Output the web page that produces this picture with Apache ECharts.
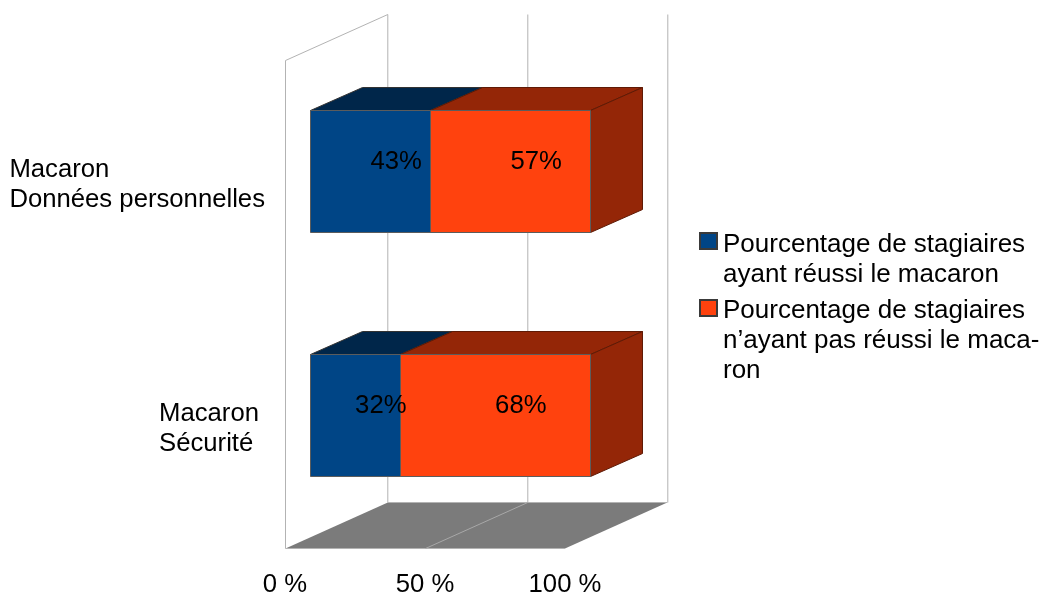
<!DOCTYPE html>
<html>
<head>
<meta charset="utf-8">
<style>html,body{margin:0;padding:0;background:#fff}#c{width:1048px;height:593px}</style>
<script src="https://cdn.jsdelivr.net/npm/echarts@6/dist/echarts.min.js"></script>
</head>
<body>
<div id="c"></div>
<script>
const categories = ['Macaron\nDonnées personnelles', 'Macaron\nSécurité'];
const reussi = [43, 32];
const echec = [57, 68];
const xTicks = [0, 50, 100];
const seriesNames = ['Pourcentage de stagiaires\nayant réussi le macaron', 'Pourcentage de stagiaires\nn’ayant pas réussi le maca-\nron'];

const FONT = '"Liberation Sans", Arial, sans-serif';
const FS = 25.7;
const GRID_COL = '#b3b3b3';
const WALL = { dx: 102.3, dy: -46 };
const BAR = { dx0: 25, dy0: -11, dx: 52, dy: -23 };

const chart = echarts.init(document.getElementById('c'), null, { renderer: 'canvas' });

function poly(points, fill, stroke, z2) {
  return { type: 'polygon', z2: z2 || 0, shape: { points }, style: { fill, stroke, lineWidth: 1 } };
}
function line(x1, y1, x2, y2, stroke) {
  return { type: 'line', shape: { x1, y1, x2, y2 }, style: { stroke, lineWidth: 1, fill: null } };
}

function renderWalls(params, api) {
  const c = params.coordSys;
  const l = c.x + 0.5, r = c.x + c.width, t = c.y + 0.5, b = c.y + c.height + 0.5;
  const d = WALL;
  return { type: 'group', children: [
    poly([[l, b], [r, b], [r + d.dx, b + d.dy], [l + d.dx, b + d.dy]], '#7b7b7b', null),
    line(l, t, l, b, GRID_COL),
    line(l, t, l + d.dx, t + d.dy, GRID_COL),
    line(l + d.dx, b + d.dy, r + d.dx, b + d.dy, GRID_COL),
    line(l, b, r, b, GRID_COL)
  ] };
}

function renderTicks(params, api) {
  const c = params.coordSys;
  const p = api.coord([api.value(0), 0]);
  const x = Math.round(p[0]) + 0.5;
  const b = c.y + c.height + 0.5, t = c.y + 0.5;
  const d = WALL;
  const kids = [line(x + d.dx, t + d.dy, x + d.dx, b + d.dy, GRID_COL)];
  if (api.value(0) > 0 && api.value(0) < 100) kids.push(line(x, b, x + d.dx, b + d.dy, '#a8a8a8'));
  return { type: 'group', children: kids };
}

function makeBarRenderer(front, dark, edge, baseArr) {
  return function (params, api) {
    const i = params.dataIndex;
    const v = api.value(0);
    const base = baseArr ? baseArr[i] : 0;
    const cat = api.value(1);
    const p0 = api.coord([base, cat]);
    const p1 = api.coord([base + v, cat]);
    const bw = api.size([0, 1])[1] / 2;
    const x0 = Math.round(p0[0] + BAR.dx0) + 0.5, x1 = Math.round(p1[0] + BAR.dx0) + 0.5;
    const yt = Math.round(p0[1] - bw / 2 + BAR.dy0) + 0.5, yb = yt + Math.round(bw);
    const dx = BAR.dx, dy = BAR.dy;
    return { type: 'group', children: [
      poly([[x0, yt], [x1, yt], [x1 + dx, yt + dy], [x0 + dx, yt + dy]], dark, edge),
      poly([[x1, yt], [x1 + dx, yt + dy], [x1 + dx, yb + dy], [x1, yb]], dark, edge),
      poly([[x0, yt], [x1, yt], [x1, yb], [x0, yb]], front, '#5c5c5c')
    ] };
  };
}

function renderLabels(baseArr) {
  return function (params, api) {
    const i = params.dataIndex;
    const v = api.value(0);
    const base = baseArr ? baseArr[i] : 0;
    const p = api.coord([base + v / 2, api.value(1)]);
    return { type: 'text', style: {
      text: v + '%', x: p[0] + BAR.dx0 + BAR.dx / 2, y: p[1] + BAR.dy0 + BAR.dy / 2 + 2.5,
      align: 'center', verticalAlign: 'middle', fill: '#000', font: FS + 'px ' + FONT
    } };
  };
}

const rowsOf = arr => arr.map((v, i) => [v, i]);
const labelSeries = (arr, base) => ({
  type: 'custom', coordinateSystem: 'cartesian2d', silent: true, z: 10,
  renderItem: renderLabels(base), encode: { x: 0, y: 1 }, data: rowsOf(arr)
});

function legendIcon(top, height) {
  return 'path://M0 ' + top + ' h17 v16 h-17 Z M0 0 L0 0 M0 ' + height + ' L0 ' + height;
}
const legendText = { fontSize: 26, lineHeight: 30, color: '#000', fontFamily: FONT, padding: [0, 0, 0, 1] };

chart.setOption({
  animation: false,
  backgroundColor: '#fff',
  textStyle: { fontFamily: FONT },
  grid: { left: 285, top: 60, width: 280, height: 488, containLabel: false, outerBoundsMode: 'none' },
  legend: [
    { data: [seriesNames[0]], left: 699, top: 229, padding: 0, orient: 'vertical', itemWidth: 17, itemHeight: 60, itemGap: 0, icon: legendIcon(3, 60),
      selectedMode: false, textStyle: legendText },
    { data: [seriesNames[1]], left: 699, top: 295, padding: 0, orient: 'vertical', itemWidth: 17, itemHeight: 90, itemGap: 0, icon: legendIcon(4, 90),
      selectedMode: false, textStyle: legendText }
  ],
  xAxis: {
    type: 'value', min: 0, max: 100, interval: 50,
    axisLine: { show: false }, axisTick: { show: false }, splitLine: { show: false },
    axisLabel: { formatter: '{value} %', fontSize: FS, color: '#000', fontFamily: FONT, margin: 24 }
  },
  yAxis: {
    type: 'category', inverse: true, data: categories,
    axisLine: { show: false }, axisTick: { show: false }, splitLine: { show: false },
    axisLabel: {
      margin: 20, color: '#000', fontSize: FS, fontFamily: FONT, align: 'right', padding: [6, 0, 0, 0],
      formatter: function (v) {
        const lines = v.split('\n');
        if (v.indexOf('Sécurité') >= 0) return lines.map(t => '{s|' + t + '}').join('\n');
        return lines.map(t => '{a|' + t + '}').join('\n');
      },
      rich: {
        a: { align: 'left', fontSize: FS, lineHeight: 30, fontFamily: FONT, color: '#000' },
        s: { align: 'left', fontSize: FS, lineHeight: 30, fontFamily: FONT, color: '#000', padding: [0, 6, 0, 0] }
      }
    }
  },
  series: [
    { type: 'custom', coordinateSystem: 'cartesian2d', silent: true, z: 1, renderItem: renderWalls, encode: { x: 0 }, data: [[xTicks[0]]] },
    { type: 'custom', coordinateSystem: 'cartesian2d', silent: true, z: 2, renderItem: renderTicks, encode: { x: 0 }, data: xTicks.map(t => [t]) },
    { name: seriesNames[0], type: 'custom', coordinateSystem: 'cartesian2d', z: 3,
      renderItem: makeBarRenderer('#004586', '#00264a', '#333', null),
      itemStyle: { color: '#004586', borderColor: '#3a3a3a', borderWidth: 1 },
      encode: { x: 0, y: 1 }, data: rowsOf(reussi) },
    { name: seriesNames[1], type: 'custom', coordinateSystem: 'cartesian2d', z: 4,
      renderItem: makeBarRenderer('#ff420e', '#942607', '#5f1a05', reussi),
      itemStyle: { color: '#ff420e', borderColor: '#3a3a3a', borderWidth: 1 },
      encode: { x: 0, y: 1 }, data: rowsOf(echec) },
    labelSeries(reussi, null),
    labelSeries(echec, reussi)
  ]
});
</script>
</body>
</html>
